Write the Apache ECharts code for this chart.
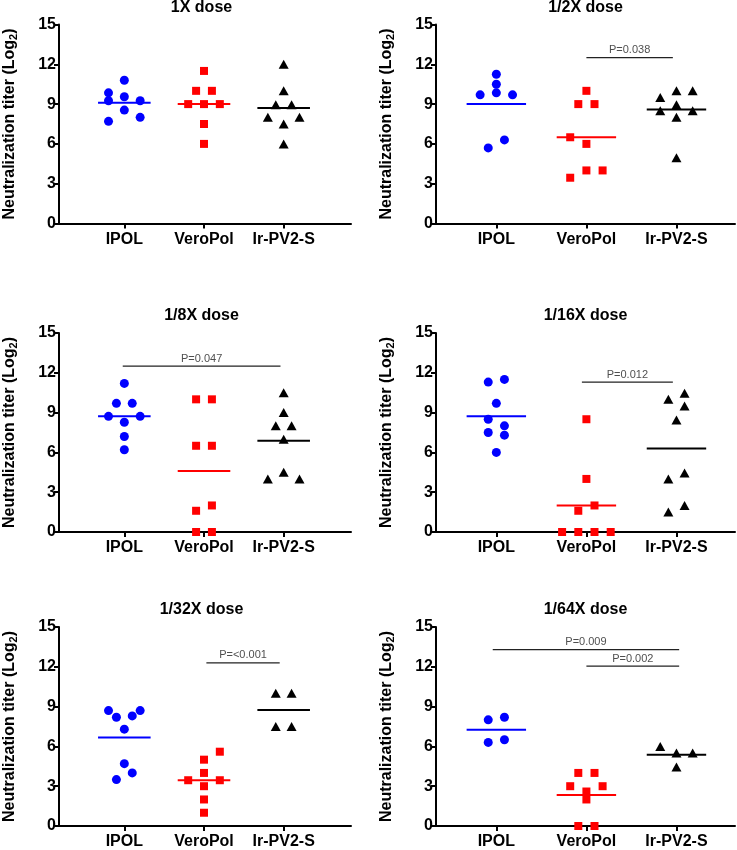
<!DOCTYPE html>
<html><head><meta charset="utf-8">
<script src="https://cdn.jsdelivr.net/npm/echarts@6/dist/echarts.min.js"></script>
<style>html,body{margin:0;padding:0;background:#fff}#c{width:737px;height:850px}</style>
</head><body><div id="c"></div><script>
// ---------- DATA ----------
const groups = ['IPOL', 'VeroPol', 'Ir-PV2-S'];
const titles = ['1X dose', '1/2X dose', '1/8X dose', '1/16X dose', '1/32X dose', '1/64X dose'];
const yTicks = [0, 3, 6, 9, 12, 15];

// values per group [IPOL, VeroPol, Ir-PV2-S]; slots = beeswarm column (-3..3) of each point
const p1_values = [[10.8, 9.85, 9.55, 9.25, 9.25, 8.55, 8.0, 7.7],
                   [11.5, 10, 10, 9, 9, 9, 7.5, 6],
                   [12, 10, 8.95, 8.95, 8, 8, 7.5, 6]];
const p1_slots  = [[0, -2, 0, -2, 2, 0, 2, -2], [0, -1, 1, -2, 0, 2, 0, 0], [0, 0, -1, 1, -2, 2, 0, 0]];
const p1_means  = [9.1, 9.0, 8.7];
const p1_pbars  = [];

const p2_values = [[11.25, 10.5, 9.85, 9.7, 9.7, 6.3, 5.7],
                   [10, 9, 9, 6.5, 6, 4, 4, 3.45],
                   [10, 10, 9.5, 8.95, 8.5, 8.5, 8, 4.95]];
const p2_slots  = [[0, 0, 0, -2, 2, 1, -1], [0, -1, 1, -2, 0, 0, 2, -2], [0, 2, -2, 0, -2, 2, 0, 0]];
const p2_means  = [9.0, 6.5, 8.6];
const p2_pbars  = [[2.0, 2.96, 12.5, 'P=0.038']];

const p3_values = [[11.2, 9.7, 9.7, 8.72, 8.72, 8.27, 7.2, 6.2],
                   [10, 10, 6.5, 6.5, 2.0, 1.6, 0, 0],
                   [10.5, 9.0, 8.0, 8.0, 7.0, 4.5, 4.0, 4.0]];
const p3_slots  = [[0, -1, 1, -2, 2, 0, 0, 0], [-1, 1, -1, 1, 1, -1, -1, 1], [0, 0, -1, 1, 0, 0, -2, 2]];
const p3_means  = [8.72, 4.6, 6.88];
const p3_pbars  = [[0.98, 2.96, 12.5, 'P=0.047']];

const p4_values = [[11.5, 11.3, 9.7, 8.5, 8.0, 7.5, 7.3, 6.0],
                   [8.5, 4.0, 2.0, 1.6, 0, 0, 0, 0],
                   [10.45, 10.0, 9.5, 8.45, 4.45, 4.0, 2.0, 1.5]];
const p4_slots  = [[1, -1, 0, -1, 1, -1, 1, 0], [0, 0, 1, -1, -3, -1, 1, 3], [1, -1, 1, 0, 1, -1, 1, -1]];
const p4_means  = [8.72, 2.0, 6.3];
const p4_pbars  = [[1.95, 2.96, 11.3, 'P=0.012']];

const p5_values = [[8.7, 8.7, 8.2, 8.3, 7.3, 4.7, 4.0, 3.5],
                   [5.6, 5.0, 4.0, 3.45, 3.45, 3.0, 2.0, 1.0],
                   [10, 10, 7.5, 7.5]];
const p5_slots  = [[-2, 2, -1, 1, 0, 0, 1, -1], [2, 0, 0, -2, 2, 0, 0, 0], [-1, 1, -1, 1]];
const p5_means  = [6.68, 3.45, 8.75];
const p5_pbars  = [[2.03, 2.95, 12.3, 'P=<0.001']];

const p6_values = [[8.2, 8.0, 6.5, 6.3],
                   [4, 4, 3, 3, 2.6, 2.0, 0, 0],
                   [6.0, 5.5, 5.5, 4.45]];
const p6_slots  = [[1, -1, 1, -1], [-1, 1, -2, 2, 0, 0, -1, 1], [-2, 0, 2, 0]];
const p6_means  = [7.25, 2.33, 5.38];
const p6_pbars  = [[0.96, 3.03, 13.3, 'P=0.009'], [2.0, 3.03, 12.05, 'P=0.002']];

// ---------- LAYOUT / STYLE ----------
const panels = [
  [p1_values, p1_slots, p1_means, p1_pbars],
  [p2_values, p2_slots, p2_means, p2_pbars],
  [p3_values, p3_slots, p3_means, p3_pbars],
  [p4_values, p4_slots, p4_means, p4_pbars],
  [p5_values, p5_slots, p5_means, p5_pbars],
  [p6_values, p6_slots, p6_means, p6_pbars]
];
const FONT = '"Liberation Sans", Arial, sans-serif';
const colLeft = [52, 436], gridW = 299, rowTop = [24.5, 333, 627], gridH = 199;
const xMin = [0.18, 0.33], xMax = [3.845, 3.65];
const SLOT_PX = 8.1, HALF_LINE = 0.33;
const colors = ['#0000ff', '#ff0000', '#000000'];
const symbols = ['circle', 'rect', 'triangle'];
const sizes = [9, 8, [10, 9]];

const grid = [], xAxis = [], yAxis = [], series = [], graphic = [];
panels.forEach((p, i) => {
  const col = i % 2, row = Math.floor(i / 2);
  const [vals, slots, means, pbars] = p;
  grid.push({ left: colLeft[col], top: rowTop[row], width: gridW, height: gridH });
  const slotUnits = SLOT_PX / (gridW / (xMax[col] - xMin[col]));
  xAxis.push({
    gridIndex: i, type: 'value', min: xMin[col], max: xMax[col],
    axisLine: { show: true, lineStyle: { color: '#000', width: 2 } },
    axisTick: { show: true, customValues: [1, 2, 3], length: 5, lineStyle: { color: '#000', width: 2 } },
    axisLabel: { show: true, customValues: [1, 2, 3], formatter: v => groups[Math.round(v) - 1],
      fontFamily: FONT, fontWeight: 'bold', fontSize: 16, color: '#000', margin: 8 },
    splitLine: { show: false }
  });
  yAxis.push({
    gridIndex: i, type: 'value', min: yTicks[0], max: yTicks[yTicks.length - 1], interval: 3,
    name: 'Neutralization titer (Log{sub|2})', nameLocation: 'middle', nameGap: 40,
    nameTextStyle: { fontFamily: FONT, fontWeight: 'bold', fontSize: 16, color: '#000', lineHeight: 18,
      rich: { sub: { fontFamily: FONT, fontWeight: 'bold', fontSize: 11, color: '#000', verticalAlign: 'bottom', lineHeight: 18 } } },
    axisLine: { show: true, lineStyle: { color: '#000', width: 2 } },
    axisTick: { show: true, length: 5, lineStyle: { color: '#000', width: 2 } },
    axisLabel: { fontFamily: FONT, fontWeight: 'bold', fontSize: 16, color: '#000', margin: 3 },
    splitLine: { show: false }
  });
  vals.forEach((arr, g) => {
    series.push({
      type: 'scatter', xAxisIndex: i, yAxisIndex: i, symbol: symbols[g], symbolSize: sizes[g],
      itemStyle: { color: colors[g], opacity: 1 }, z: 4, silent: true,
      data: arr.map((v, k) => [g + 1 + slots[g][k] * slotUnits, v])
    });
    series.push({
      type: 'line', xAxisIndex: i, yAxisIndex: i, symbol: 'none', silent: true, z: 3,
      lineStyle: { color: colors[g], width: 2 },
      data: [[g + 1 - HALF_LINE, means[g]], [g + 1 + HALF_LINE, means[g]]]
    });
  });
  pbars.forEach(b => {
    series.push({
      type: 'line', xAxisIndex: i, yAxisIndex: i, symbol: 'none', silent: true, z: 3,
      lineStyle: { color: '#222', width: 1.2 }, data: [[b[0], b[2]], [b[1], b[2]]]
    });
    series.push({
      type: 'scatter', xAxisIndex: i, yAxisIndex: i, symbolSize: 0, silent: true, z: 3,
      label: { show: true, position: 'top', distance: 2, formatter: b[3], fontFamily: FONT, fontSize: 11, color: '#222' },
      data: [[(b[0] + b[1]) / 2, b[2]]]
    });
  });
  graphic.push({
    type: 'text', x: colLeft[col] + gridW / 2, y: rowTop[row] - 17,
    style: { text: titles[i], align: 'center', verticalAlign: 'middle', textAlign: 'center', textVerticalAlign: 'middle',
      font: 'bold 16px ' + FONT, fill: '#000' }
  });
});

const chart = echarts.init(document.getElementById('c'));
chart.setOption({ animation: false, backgroundColor: '#fff', grid, xAxis, yAxis, series, graphic });
</script></body></html>
